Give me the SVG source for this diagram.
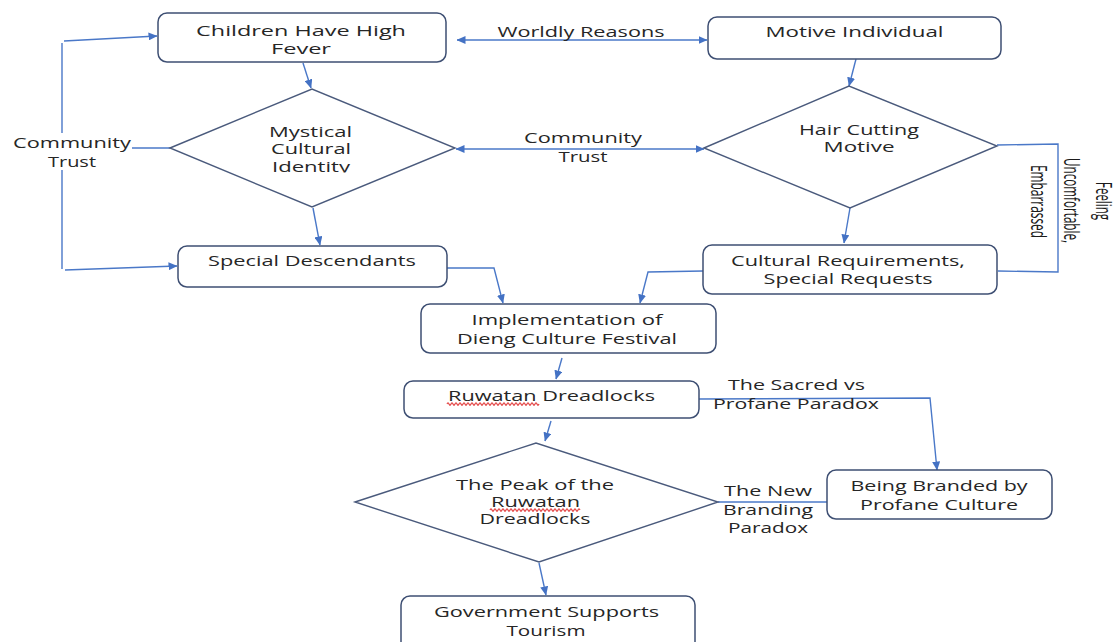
<svg xmlns="http://www.w3.org/2000/svg" width="1118" height="642" viewBox="0 0 1118 642">
<style>
.box{fill:#fff;stroke:#3E4F73;stroke-width:1.5}
.dia{fill:#fff;stroke:#4A5A7C;stroke-width:1.4}
.t{font-family:"Open Sans","Liberation Sans",sans-serif;font-size:15px;fill:#262626;text-anchor:middle}
.s{font-size:14px}
.rt{font-family:"Open Sans","Liberation Sans",sans-serif;font-size:16px;fill:#1a1a1a;text-anchor:middle}
.c{fill:none;stroke:#4A78C8;stroke-width:1.4}
.a{marker-end:url(#ah)}
.aa{marker-end:url(#ah);marker-start:url(#ah)}
.sq{fill:none;stroke:#E03030;stroke-width:1.1}
</style>
<defs>
<marker id="ah" markerUnits="userSpaceOnUse" markerWidth="9" markerHeight="8" refX="8.5" refY="4" orient="auto-start-reverse">
<path d="M0,0 L9,4 L0,8 z" fill="#4472C4"/>
</marker>
<clipPath id="clipM"><rect x="250" y="100" width="130" height="72.5"/></clipPath>
</defs>

<g id="connectors">
<path class="c a" d="M303,63 L311,88"/>
<path class="c a" d="M313,208 L320,245"/>
<path class="c" d="M170,148 L132,148"/>
<path class="c" d="M62,43 L62,133 M62,170 L62,269"/>
<path class="c a" d="M64,41 L157,36"/>
<path class="c a" d="M65,270 L177,266"/>
<path class="c aa" d="M457,40 L707,40"/>
<path class="c aa" d="M456,149 L704,149"/>
<path class="c a" d="M856,59 L849,86"/>
<path class="c a" d="M850,208 L844,243"/>
<path class="c" d="M997,145 L1058,144 L1058,272 L998,271"/>
<path class="c a" d="M447,268 L494,268 L503,303"/>
<path class="c a" d="M703,271 L648,272 L640,303"/>
<path class="c a" d="M562,358 L556,379"/>
<path class="c a" d="M551,421 L545,441"/>
<path class="c a" d="M539,563 L546,595"/>
<path class="c a" d="M699,399 L930,398 L937,470"/>
<path class="c" d="M718,502 L827,502"/>
</g>

<g id="n-children">
<rect class="box" x="158" y="13" width="288" height="49" rx="9"/>
<text class="t" x="301" y="36" textLength="210" lengthAdjust="spacingAndGlyphs">Children Have High</text>
<text class="t" x="301" y="54" textLength="60" lengthAdjust="spacingAndGlyphs">Fever</text>
</g>

<g id="n-motive">
<rect class="box" x="708" y="17" width="293" height="42" rx="9"/>
<text class="t" x="854.5" y="37" textLength="178" lengthAdjust="spacingAndGlyphs">Motive Individual</text>
</g>

<g id="n-mystical">
<polygon class="dia" points="170,148 312,89 455,148 312,207"/>
<g clip-path="url(#clipM)">
<text class="t s" x="310.5" y="137" textLength="83" lengthAdjust="spacingAndGlyphs">Mystical</text>
<text class="t s" x="311" y="154" textLength="80" lengthAdjust="spacingAndGlyphs">Cultural</text>
<text class="t s" x="311" y="172" textLength="78" lengthAdjust="spacingAndGlyphs">Identity</text>
</g>
</g>

<g id="n-hair">
<polygon class="dia" points="704,148 849,86 997,146 850,208"/>
<text class="t s" x="859" y="135" textLength="120" lengthAdjust="spacingAndGlyphs">Hair Cutting</text>
<text class="t s" x="859" y="152" textLength="71" lengthAdjust="spacingAndGlyphs">Motive</text>
</g>

<g id="n-special">
<rect class="box" x="178" y="246" width="269" height="41" rx="9"/>
<text class="t" x="312" y="266" textLength="208" lengthAdjust="spacingAndGlyphs">Special Descendants</text>
</g>

<g id="n-cultural">
<rect class="box" x="703" y="245" width="294" height="49" rx="9"/>
<text class="t" x="848" y="266" textLength="234" lengthAdjust="spacingAndGlyphs">Cultural Requirements,</text>
<text class="t" x="848" y="284" textLength="169" lengthAdjust="spacingAndGlyphs">Special Requests</text>
</g>

<g id="n-impl">
<rect class="box" x="421" y="304" width="295" height="49" rx="9"/>
<text class="t" x="567" y="325" textLength="191" lengthAdjust="spacingAndGlyphs">Implementation of</text>
<text class="t" x="567" y="344" textLength="220" lengthAdjust="spacingAndGlyphs">Dieng Culture Festival</text>
</g>

<g id="n-ruwatan">
<rect class="box" x="404" y="381" width="295" height="37" rx="9"/>
<text class="t" x="551.5" y="401" textLength="207" lengthAdjust="spacingAndGlyphs">Ruwatan Dreadlocks</text>
<path class="sq" d="M447,404 q1,-2.4 2,0 t2,0 t2,0 t2,0 t2,0 t2,0 t2,0 t2,0 t2,0 t2,0 t2,0 t2,0 t2,0 t2,0 t2,0 t2,0 t2,0 t2,0 t2,0 t2,0 t2,0 t2,0 t2,0 t2,0 t2,0 t2,0 t2,0 t2,0 t2,0 t2,0 t2,0 t2,0 t2,0 t2,0 t2,0 t2,0 t2,0 t2,0 t2,0 t2,0 t2,0 t2,0 t2,0 t2,0 t2,0 t2,0"/>
</g>

<g id="n-peak">
<polygon class="dia" points="355,502 536,443 718,502 539,562"/>
<text class="t s" x="535" y="490" textLength="158" lengthAdjust="spacingAndGlyphs">The Peak of the</text>
<text class="t s" x="535.5" y="507" textLength="89" lengthAdjust="spacingAndGlyphs">Ruwatan</text>
<path class="sq" d="M490,510 q1,-2.4 2,0 t2,0 t2,0 t2,0 t2,0 t2,0 t2,0 t2,0 t2,0 t2,0 t2,0 t2,0 t2,0 t2,0 t2,0 t2,0 t2,0 t2,0 t2,0 t2,0 t2,0 t2,0 t2,0 t2,0 t2,0 t2,0 t2,0 t2,0 t2,0 t2,0 t2,0 t2,0 t2,0 t2,0 t2,0 t2,0 t2,0 t2,0 t2,0 t2,0 t2,0 t2,0 t2,0 t2,0 t2,0"/>
<text class="t s" x="535" y="524" textLength="111" lengthAdjust="spacingAndGlyphs">Dreadlocks</text>
</g>

<g id="n-gov">
<rect class="box" x="401" y="596" width="294" height="60" rx="9"/>
<text class="t" x="546.5" y="617" textLength="225" lengthAdjust="spacingAndGlyphs">Government Supports</text>
<text class="t" x="546" y="636" textLength="79" lengthAdjust="spacingAndGlyphs">Tourism</text>
</g>

<g id="n-branded">
<rect class="box" x="827" y="470" width="225" height="49" rx="9"/>
<text class="t" x="939" y="491" textLength="177" lengthAdjust="spacingAndGlyphs">Being Branded by</text>
<text class="t" x="939" y="510" textLength="158" lengthAdjust="spacingAndGlyphs">Profane Culture</text>
</g>

<g id="labels">
<text class="t" x="581" y="37" textLength="167" lengthAdjust="spacingAndGlyphs">Worldly Reasons</text>
<text class="t" x="72" y="148" textLength="118" lengthAdjust="spacingAndGlyphs">Community</text>
<text class="t" x="72" y="167" textLength="48" lengthAdjust="spacingAndGlyphs">Trust</text>
<text class="t" x="583" y="143" textLength="118" lengthAdjust="spacingAndGlyphs">Community</text>
<text class="t" x="583" y="162" textLength="49" lengthAdjust="spacingAndGlyphs">Trust</text>
<text class="t" x="796.5" y="390" textLength="137" lengthAdjust="spacingAndGlyphs">The Sacred vs</text>
<text class="t" x="796" y="409" textLength="166" lengthAdjust="spacingAndGlyphs">Profane Paradox</text>
<text class="t s" x="768" y="496" textLength="88" lengthAdjust="spacingAndGlyphs">The New</text>
<text class="t s" x="768" y="515" textLength="90" lengthAdjust="spacingAndGlyphs">Branding</text>
<text class="t s" x="768" y="533" textLength="80" lengthAdjust="spacingAndGlyphs">Paradox</text>
<text class="rt" transform="translate(1096,201) scale(1.35,1) rotate(90)" textLength="38" lengthAdjust="spacingAndGlyphs">Feeling</text>
<text class="rt" transform="translate(1064,200.5) scale(1.35,1) rotate(90)" textLength="85" lengthAdjust="spacingAndGlyphs">Uncomfortable,</text>
<text class="rt" transform="translate(1031,201.5) scale(1.35,1) rotate(90)" textLength="73" lengthAdjust="spacingAndGlyphs">Embarrassed</text>
</g>
</svg>
